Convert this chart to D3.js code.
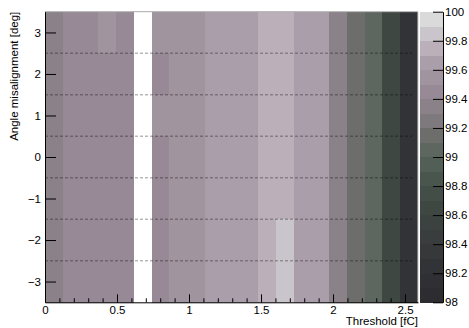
<!DOCTYPE html>
<html>
<head>
<meta charset="utf-8">
<script src="https://cdn.jsdelivr.net/npm/d3@7"></script>
<style>
  body { margin: 0; background: #fff; }
  text { font-family: "Liberation Sans", Arial, Helvetica, sans-serif; font-size: 11.5px; fill: #000; }
</style>
</head>
<body>
<script>
// bin centres of the threshold scan [fC] and the angle rows [deg]
var thresholds = [0.062, 0.185, 0.308, 0.432, 0.555, 0.678, 0.802, 0.925, 1.048, 1.172, 1.295,
                  1.418, 1.542, 1.665, 1.788, 1.912, 2.035, 2.158, 2.282, 2.405, 2.528];
var binWidth = 0.1233;
var angles = [3, 2, 1, 0, -1, -2, -3];

// efficiency [%] per angle row, one value per threshold bin (null = empty bin)
var effPlus3  = [99.35, 99.45, 99.46, 99.55, 99.44, null, 99.56, 99.54, 99.55, 99.64, 99.66, 99.65, 99.75, 99.74, 99.65, 99.66, 99.34, 99.15, 99.05, 98.65, 98.25];
var effPlus2  = [99.36, 99.44, 99.45, 99.45, 99.45, null, 99.45, 99.55, 99.56, 99.65, 99.64, 99.65, 99.74, 99.75, 99.66, 99.65, 99.35, 99.14, 99.04, 98.66, 98.26];
var effPlus1  = [99.35, 99.45, 99.44, 99.46, 99.45, null, 99.55, 99.56, 99.55, 99.64, 99.65, 99.66, 99.75, 99.76, 99.65, 99.64, 99.36, 99.15, 99.05, 98.65, 98.25];
var effZero   = [99.34, 99.46, 99.45, 99.45, 99.44, null, 99.45, 99.55, 99.54, 99.65, 99.66, 99.65, 99.76, 99.75, 99.64, 99.65, 99.35, 99.16, 99.06, 98.64, 98.24];
var effMinus1 = [99.35, 99.45, 99.45, 99.44, 99.45, null, 99.44, 99.56, 99.55, 99.66, 99.65, 99.64, 99.75, 99.74, 99.65, 99.66, 99.34, 99.15, 99.05, 98.65, 98.25];
var effMinus2 = [99.36, 99.44, 99.46, 99.45, 99.46, null, 99.45, 99.55, 99.56, 99.65, 99.64, 99.65, 99.74, 99.85, 99.66, 99.65, 99.35, 99.14, 99.04, 98.66, 98.26];
var effMinus3 = [99.35, 99.45, 99.45, 99.45, 99.44, null, 99.46, 99.54, 99.55, 99.64, 99.65, 99.66, 99.75, 99.86, 99.65, 99.64, 99.36, 99.15, 99.05, 98.65, 98.25];
var effRows = [effPlus3, effPlus2, effPlus1, effZero, effMinus1, effMinus2, effMinus3];

var xMajorTicks = [0, 0.5, 1, 1.5, 2, 2.5];
var yTicks = [-3, -2, -1, 0, 1, 2, 3];
var zTicks = [98, 98.2, 98.4, 98.6, 98.8, 99, 99.2, 99.4, 99.6, 99.8, 100];
var gridAngles = [2.5, 1.5, 0.5, -0.5, -1.5, -2.5];

// 20 contour colours, low to high
var palette = ["#2d2d31", "#303034", "#323337", "#36383a", "#393d3d", "#3c4240", "#3f4743", "#434e48",
               "#48564e", "#515f57", "#5e6660", "#6d6e6c", "#7e797d", "#8b8189", "#978a96", "#a0949f",
               "#ab9eab", "#bbb0ba", "#cac5cb", "#dadada"];

var W = 469, H = 328;
var padLeft = 45, padRight = 418, padTop = 11.7, padBottom = 302.3;

var svg = d3.select('body').append('svg')
    .attr('width', W)
    .attr('height', H);

var x = d3.scaleLinear().domain([0, 2.59]).range([padLeft, padRight]);
var y = d3.scaleLinear().domain([-3.5, 3.5]).range([padBottom, padTop]);
var z = d3.scaleQuantize().domain([98, 100]).range(palette);

// cells
var cells = [];
effRows.forEach(function(row, i){
    row.forEach(function(v, j){
        if (v !== null) cells.push({ t: thresholds[j], a: angles[i], v: v });
    });
});

svg.append('g').selectAll('rect')
    .data(cells)
    .enter().append('rect')
    .attr('x', function(d){ return x(d.t - binWidth / 2); })
    .attr('y', function(d){ return y(d.a + 0.5); })
    .attr('width', function(d){ return x(d.t + binWidth / 2) - x(d.t - binWidth / 2) + 0.3; })
    .attr('height', function(d){ return y(d.a - 0.5) - y(d.a + 0.5) + 0.3; })
    .attr('shape-rendering', 'crispEdges')
    .style('fill', function(d){ return z(d.v); });

// dashed row separators
svg.append('g').selectAll('line')
    .data(gridAngles)
    .enter().append('line')
    .attr('x1', x(0)).attr('x2', x(2.55))
    .attr('y1', function(d){ return y(d); })
    .attr('y2', function(d){ return y(d); })
    .style('stroke', '#000')
    .style('stroke-opacity', 0.28)
    .style('stroke-width', 1.4)
    .style('stroke-dasharray', '3,2');

// frame top / right
svg.append('line').attr('x1', padLeft).attr('x2', padRight).attr('y1', padTop).attr('y2', padTop)
    .style('stroke', '#aaa').style('stroke-width', 1);
svg.append('line').attr('x1', padRight).attr('x2', padRight).attr('y1', padTop).attr('y2', padBottom)
    .style('stroke', '#ccc').style('stroke-width', 1);

// x axis
var xMinor = svg.append('g')
    .attr('transform', 'translate(0,' + padBottom + ')')
    .call(d3.axisBottom(x).tickValues(d3.range(0.1, 2.59, 0.1)).tickSize(-4).tickFormat(''));
xMinor.select('.domain').remove();

var xAxis = svg.append('g')
    .attr('transform', 'translate(0,' + padBottom + ')')
    .call(d3.axisBottom(x).tickValues(xMajorTicks).tickSizeInner(-8).tickSizeOuter(0)
        .tickFormat(d3.format('')));
xAxis.selectAll('text').attr('y', 4).attr('dy', '0.71em').style('font-size', '11.5px');

// y axis
var yAxis = svg.append('g')
    .attr('transform', 'translate(' + padLeft + ',0)')
    .call(d3.axisLeft(y).tickValues(yTicks).tickSizeInner(-11).tickSizeOuter(0)
        .tickFormat(d3.format('')));
yAxis.selectAll('text').attr('x', -4).style('font-size', '11.5px');

svg.selectAll('.tick line').style('stroke', '#000');
svg.selectAll('.domain').style('stroke', '#000');

// axis titles
svg.append('text')
    .attr('x', padRight).attr('y', 325)
    .attr('text-anchor', 'end')
    .text('Threshold [fC]');

svg.append('text')
    .attr('transform', 'translate(18,' + padTop + ') rotate(-90)')
    .attr('text-anchor', 'end')
    .text('Angle misalignment [deg]');

// colour bar
var barLeft = 419.5, barRight = 443;
var zy = d3.scaleLinear().domain([98, 100]).range([padBottom, padTop]);
var bands = palette.map(function(c, i){ return { lo: 98 + i * 0.1, hi: 98 + (i + 1) * 0.1, c: c }; });

svg.append('g').selectAll('rect')
    .data(bands)
    .enter().append('rect')
    .attr('x', barLeft)
    .attr('y', function(d){ return zy(d.hi); })
    .attr('width', barRight - barLeft)
    .attr('height', function(d){ return zy(d.lo) - zy(d.hi) + 0.3; })
    .attr('shape-rendering', 'crispEdges')
    .style('fill', function(d){ return d.c; });

var zAxis = svg.append('g')
    .attr('transform', 'translate(' + barRight + ',0)')
    .call(d3.axisRight(zy).tickValues(zTicks).tickSizeInner(-10).tickSizeOuter(0)
        .tickFormat(d3.format('')));
zAxis.selectAll('text').attr('x', 2).style('font-size', '11.5px');
zAxis.selectAll('.tick line').style('stroke', '#000');
zAxis.select('.domain').style('stroke', '#000');
</script>
</body>
</html>
